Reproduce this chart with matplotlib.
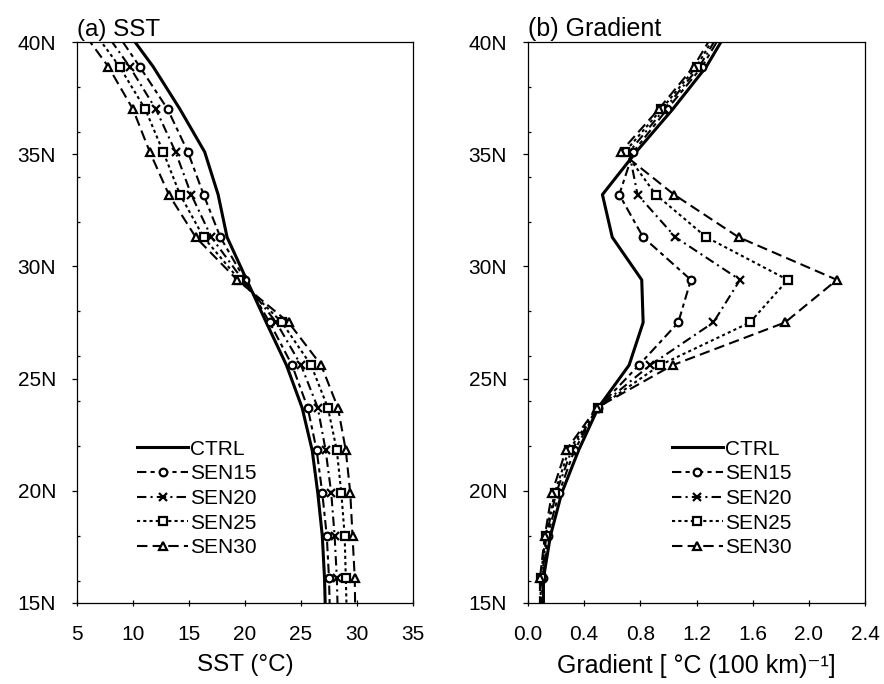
import matplotlib
matplotlib.use("Agg")
import matplotlib.pyplot as plt
from matplotlib.ticker import FixedLocator

plt.rcParams['font.family'] = ['Liberation Sans', 'DejaVu Sans']

# Latitudes (deg N) of grid points (first/last lie just outside the plotted range)
lat = [40.8, 38.9, 37.0, 35.1, 33.2, 31.3, 29.4, 27.5, 25.6, 23.7, 21.8, 19.9, 18.0, 16.1, 14.2]

# (a) SST (deg C)
sst_ctrl = [9.0, 11.8, 14.2, 16.4, 17.6, 18.4, 20.15, 21.9, 23.7, 25.1, 26.0, 26.5, 26.9, 27.1, 27.2]
sst_sen15 = [8.0, 10.6, 13.1, 14.9, 16.3, 17.8, 20.0, 22.2, 24.2, 25.6, 26.4, 26.9, 27.3, 27.5, 27.6]
sst_sen20 = [7.0, 9.7, 12.05, 13.8, 15.2, 17.0, 19.8, 22.8, 25.0, 26.5, 27.2, 27.7, 28.0, 28.2, 28.3]
sst_sen25 = [6.0, 8.8, 11.1, 12.7, 14.2, 16.3, 19.5, 23.3, 25.9, 27.4, 28.2, 28.6, 28.9, 29.0, 29.1]
sst_sen30 = [5.0, 7.8, 10.0, 11.5, 13.2, 15.6, 19.3, 23.9, 26.8, 28.3, 29.0, 29.4, 29.6, 29.8, 29.85]

# (b) Gradient (deg C per 100 km)
grd_ctrl = [1.45, 1.27, 1.03, 0.77, 0.53, 0.60, 0.81, 0.82, 0.72, 0.50, 0.36, 0.24, 0.16, 0.11, 0.11]
grd_sen15 = [1.42, 1.24, 0.99, 0.75, 0.65, 0.82, 1.16, 1.07, 0.79, 0.50, 0.33, 0.22, 0.14, 0.105, 0.10]
grd_sen20 = [1.40, 1.22, 0.97, 0.72, 0.78, 1.05, 1.51, 1.32, 0.87, 0.50, 0.31, 0.20, 0.13, 0.10, 0.095]
grd_sen25 = [1.38, 1.20, 0.95, 0.69, 0.91, 1.27, 1.85, 1.58, 0.94, 0.50, 0.29, 0.19, 0.125, 0.09, 0.09]
grd_sen30 = [1.36, 1.18, 0.93, 0.66, 1.04, 1.50, 2.20, 1.83, 1.03, 0.49, 0.27, 0.17, 0.12, 0.085, 0.085]

names = ['CTRL', 'SEN15', 'SEN20', 'SEN25', 'SEN30']
ytick_vals = [15, 20, 25, 30, 35, 40]
ytick_labels = ['15N', '20N', '25N', '30N', '35N', '40N']
yminor = [16, 18, 22, 24, 26, 28, 32, 34, 36, 38]
sst_ticks = [5, 10, 15, 20, 25, 30, 35]
grd_ticks = [0.0, 0.4, 0.8, 1.2, 1.6, 2.0, 2.4]

styles = [
    dict(ls='-', lw=2.2, marker=None),
    dict(ls=(0, (4.5, 2, 2, 2)), lw=1.5, marker='o'),
    dict(ls=(0, (4.5, 2, 1, 2)), lw=1.5, marker='x'),
    dict(ls=(0, (1.5, 1.5)), lw=1.5, marker='s'),
    dict(ls=(0, (5, 2.5)), lw=1.5, marker='^'),
]

FS = 15
fig = plt.figure(figsize=(8.84, 6.84), dpi=100)
axa = fig.add_axes([77/884, 81/684, 336/884, 561/684])
axb = fig.add_axes([528/884, 81/684, 337/884, 561/684])


def draw(ax, series):
    for vals, name, st in zip(series, names, styles):
        kw = dict(color='black', lw=st['lw'], linestyle=st['ls'], label=name)
        if st['marker']:
            kw.update(marker=st['marker'], markersize=5.5, markerfacecolor='white',
                      markeredgecolor='black', markeredgewidth=1.6)
        ax.plot(vals, lat, **kw)
    ax.set_ylim(15, 40)
    ax.set_yticks(ytick_vals)
    ax.set_yticklabels(ytick_labels)
    ax.yaxis.set_minor_locator(FixedLocator(yminor))
    ax.tick_params(axis='y', which='major', direction='out', length=3.6, width=0.9,
                   pad=11.5, labelsize=FS)
    ax.tick_params(axis='y', which='minor', direction='in', length=2.5, width=0.9)
    ax.tick_params(axis='x', which='major', direction='inout', length=4, width=0.9,
                   pad=14, labelsize=FS)
    for sp in ax.spines.values():
        sp.set_linewidth(0.9)


draw(axa, [sst_ctrl, sst_sen15, sst_sen20, sst_sen25, sst_sen30])
axa.set_xlim(5, 35)
axa.set_xticks(sst_ticks)
axa.set_xticklabels([str(t) for t in sst_ticks])
axa.set_xlabel('SST (°C)', fontsize=17.5, labelpad=7)
axa.set_title('(a) SST', loc='left', fontsize=17.5, pad=4)

draw(axb, [grd_ctrl, grd_sen15, grd_sen20, grd_sen25, grd_sen30])
axb.set_xlim(0, 2.4)
axb.set_xticks(grd_ticks)
axb.set_xticklabels(['%.1f' % t for t in grd_ticks])
axb.set_xlabel('Gradient [ °C (100 km)⁻¹]', fontsize=18, labelpad=7)
axb.set_title('(b) Gradient', loc='left', fontsize=18, pad=4)

for ax, xa in ((axa, 0.179), (axb, 0.427)):
    ax.legend(loc='upper left', bbox_to_anchor=(xa, 0.291), frameon=False, fontsize=FS,
              handlelength=2.45, handletextpad=0.1, labelspacing=0.27, borderpad=0,
              borderaxespad=0, numpoints=1)

fig.savefig('out.png', dpi=100)
